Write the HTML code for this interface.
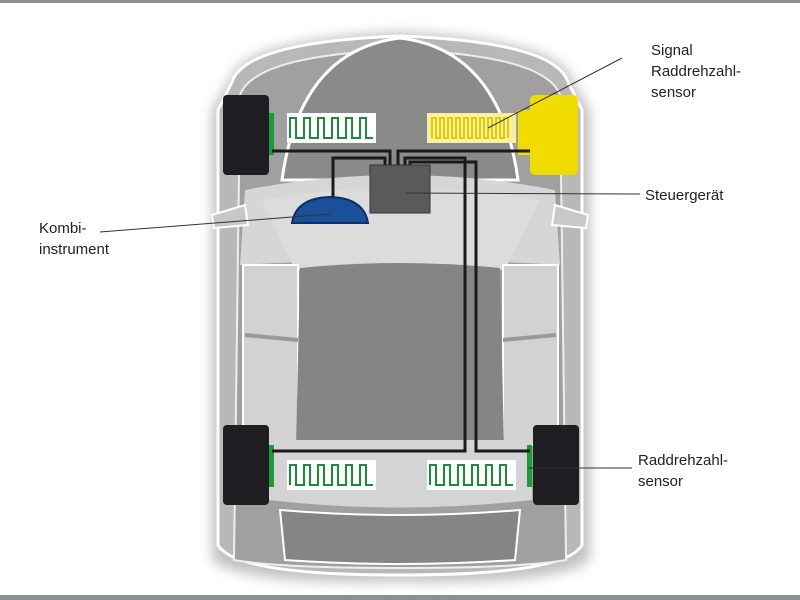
<!DOCTYPE html>
<html><head><meta charset="utf-8"><style>
html,body{margin:0;padding:0;background:#fff;}
svg{display:block}
text{font-family:"Liberation Sans",sans-serif;font-size:15px;fill:#222}
</style></head><body>
<svg width="800" height="600" viewBox="0 0 800 600">
<rect width="800" height="600" fill="#fff"/>
<rect x="0" y="0" width="800" height="3" fill="#8a9098"/>
<rect x="0" y="595" width="800" height="5" fill="#8a9098"/>
<defs><filter id="b" x="-20%" y="-20%" width="140%" height="140%"><feGaussianBlur stdDeviation="6"/></filter></defs>
<!-- shadow -->
<path d="M230 80 Q240 40 400 32 Q560 40 572 80 L590 110 L590 560 Q560 585 400 582 Q240 585 212 560 L212 110 Z" fill="#999" filter="url(#b)" opacity="0.6"/>
<!-- body -->
<path d="M232 82 Q245 42 400 36 Q555 42 568 82 L582 110 L582 545 Q565 575 400 575 Q235 575 218 545 L218 110 Z" fill="#b8b8b8" stroke="#fff" stroke-width="3"/>
<path d="M240 95 Q255 55 400 50 Q545 55 560 95 L566 560 Q520 568 400 568 Q280 568 234 560 Z" fill="#a0a0a0" stroke="#eee" stroke-width="2"/>
<!-- hood dome -->
<path d="M282 180 Q300 50 400 38 Q500 50 518 180 Z" fill="#8a8a8a" stroke="#fff" stroke-width="3"/>
<!-- windshield band -->
<path d="M245 190 Q400 160 555 190 L560 265 Q400 255 240 265 Z" fill="#d6d6d6"/>
<path d="M262 200 Q400 175 540 200 L505 270 L295 270 Z" fill="#dcdcdc"/>
<!-- side light panels -->
<rect x="243" y="265" width="55" height="180" fill="#d2d2d2" stroke="#fff" stroke-width="2"/>
<rect x="503" y="265" width="55" height="180" fill="#d2d2d2" stroke="#fff" stroke-width="2"/>
<line x1="245" y1="335" x2="298" y2="340" stroke="#999" stroke-width="4"/>
<line x1="503" y1="340" x2="556" y2="335" stroke="#999" stroke-width="4"/>
<!-- roof -->
<path d="M300 268 Q400 258 500 268 L504 448 L296 448 Z" fill="#858585"/>
<!-- rear band -->
<path d="M268 440 L532 440 L532 500 Q400 515 268 500 Z" fill="#d4d4d4"/>
<!-- trunk -->
<path d="M280 510 Q400 520 520 510 L515 560 Q400 568 285 560 Z" fill="#858585" stroke="#fff" stroke-width="2"/>
<!-- mirrors -->
<path d="M212 215 L245 205 L248 225 L214 228 Z" fill="#c8c8c8" stroke="#fff" stroke-width="2"/>
<path d="M588 215 L555 205 L552 225 L586 228 Z" fill="#c8c8c8" stroke="#fff" stroke-width="2"/>
<!-- wheels -->
<rect x="223" y="95" width="46" height="80" rx="4" fill="#1e1e22"/>
<rect x="223" y="425" width="46" height="80" rx="4" fill="#1e1e22"/>
<rect x="533" y="425" width="46" height="80" rx="4" fill="#1e1e22"/>
<rect x="530" y="95" width="48" height="80" rx="5" fill="#f0dc00"/>
<rect x="518" y="110" width="14" height="45" fill="#f0dc00"/>
<!-- green brackets -->
<rect x="269" y="113" width="5" height="42" fill="#1e9a3c"/>
<rect x="269" y="445" width="5" height="42" fill="#1e9a3c"/>
<rect x="527" y="445" width="5" height="42" fill="#1e9a3c"/>
<!-- signal boxes -->
<rect x="287" y="113" width="89" height="30" fill="#fff"/>
<path d="M290 138 V118 H296 V138 H304 V118 H310 V138 H318 V118 H324 V138 H332 V118 H338 V138 H346 V118 H352 V138 H360 V118 H366 V138 H373" fill="none" stroke="#1e8a3c" stroke-width="2"/>
<rect x="427" y="113" width="89" height="30" fill="#f8f0a0"/>
<path d="M432 138 V118 H436 V138 H440 V118 H444 V138 H448 V118 H452 V138 H456 V118 H460 V138 H464 V118 H468 V138 H472 V118 H476 V138 H480 V118 H484 V138 H488 V118 H492 V138 H496 V118 H500 V138 H504 V118 H508 V138" fill="none" stroke="#e0cc00" stroke-width="2"/>
<rect x="287" y="460" width="89" height="30" fill="#fff"/>
<path d="M290 485 V465 H296 V485 H304 V465 H310 V485 H318 V465 H324 V485 H332 V465 H338 V485 H346 V465 H352 V485 H360 V465 H366 V485 H373" fill="none" stroke="#1e8a3c" stroke-width="2"/>
<rect x="427" y="460" width="89" height="30" fill="#fff"/>
<path d="M430 485 V465 H436 V485 H444 V465 H450 V485 H458 V465 H464 V485 H472 V465 H478 V485 H486 V465 H492 V485 H500 V465 H506 V485 H513" fill="none" stroke="#1e8a3c" stroke-width="2"/>
<!-- wires -->
<g fill="none" stroke="#1a1a1a" stroke-width="3">
<path d="M272 151 H390 V165"/>
<path d="M530 151 H398 V165"/>
<path d="M333 197 V158 H385 V165"/>
<path d="M405 165 V158 H465 V451 H272"/>
<path d="M410 165 V162 H476 V451 H530"/>
</g>
<!-- ECU -->
<rect x="370" y="165" width="60" height="48" fill="#5a5a5a" stroke="#333" stroke-width="1"/>
<!-- kombi -->
<path d="M292 223 Q296 198 330 197 Q364 198 368 223 Z" fill="#1a4f9a" stroke="#0c2f66" stroke-width="2"/>
<!-- leader lines -->
<g stroke="#333" stroke-width="1">
<line x1="622" y1="58" x2="488" y2="128"/>
<line x1="640" y1="194" x2="405" y2="193"/>
<line x1="100" y1="232" x2="330" y2="214"/>
<line x1="632" y1="468" x2="528" y2="468"/>
</g>
<text x="651" y="55">Signal</text>
<text x="651" y="76">Raddrehzahl-</text>
<text x="651" y="97">sensor</text>
<text x="645" y="200">Steuergerät</text>
<text x="39" y="233">Kombi-</text>
<text x="39" y="254">instrument</text>
<text x="638" y="465">Raddrehzahl-</text>
<text x="638" y="486">sensor</text>
</svg>
</body></html>
